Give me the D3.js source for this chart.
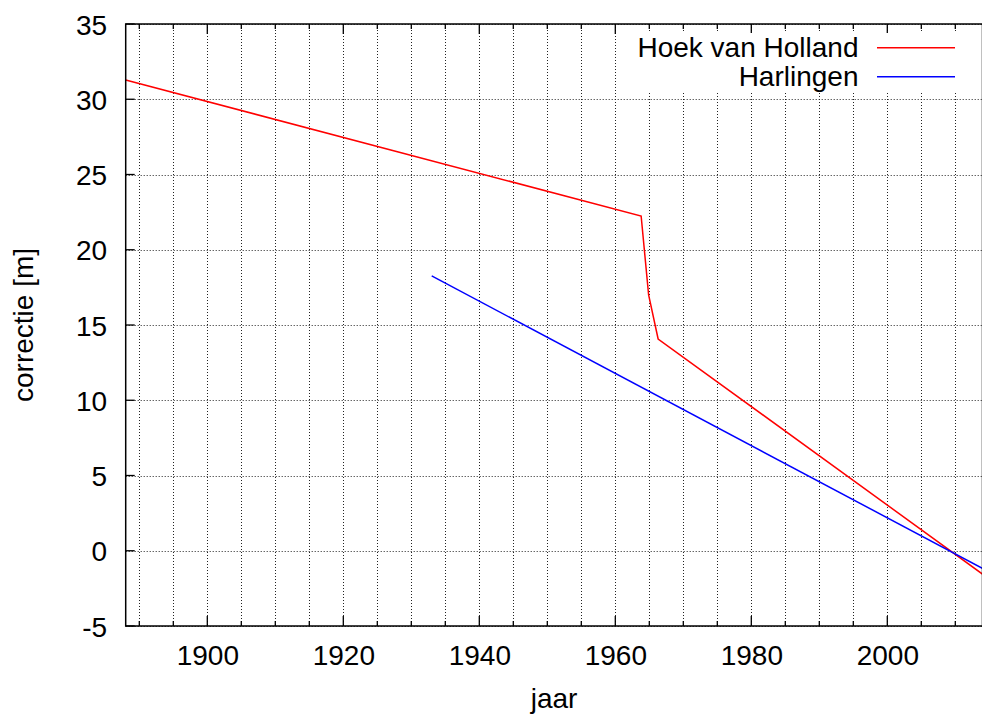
<!DOCTYPE html>
<html>
<head>
<meta charset="utf-8">
<script src="https://cdn.jsdelivr.net/npm/d3@7"></script>
<style>
  body { margin: 0; background: #fff; }
  svg { display: block; }
</style>
</head>
<body>
<script>
const hoekYears = [1888, 1963.8, 1964.9, 1966.3, 2014];
const hoekValues = [31.28, 22.24, 17.0, 14.07, -1.55];
const harlingenYears = [1933.0, 2014];
const harlingenValues = [18.26, -1.17];
const seriesNames = ["Hoek van Holland", "Harlingen"];
const xTickValues = [1900, 1920, 1940, 1960, 1980, 2000];
const yTickValues = [-5, 0, 5, 10, 15, 20, 25, 30, 35];

const drawChart = () => {
  const width = 982;
  const height = 717;
  const left = 125.7;
  const right = 982.5;
  const top = 24;
  const bottom = 626;
  const font = "'Liberation Sans', Arial, Helvetica, sans-serif";
  const colors = ["#ff0000", "#0000ff"];

  const xScale = d3.scaleLinear().domain([1888, 2014]).range([left, right]);
  const yScale = d3.scaleLinear().domain([-5, 35]).range([bottom, top]);

  const minorX = d3.range(1890, 2014.01, 5);

  const svg = d3
    .select("body")
    .append("svg")
    .attr("width", width)
    .attr("height", height);

  // grid
  const grid = svg
    .append("g")
    .attr("stroke", "#222")
    .attr("stroke-width", 1)
    .attr("stroke-dasharray", "1,2");
  grid
    .selectAll("line.v")
    .data(minorX)
    .enter()
    .append("line")
    .attr("x1", (d) => Math.round(xScale(d)) + 0.5)
    .attr("x2", (d) => Math.round(xScale(d)) + 0.5)
    .attr("y1", top)
    .attr("y2", bottom);
  grid
    .selectAll("line.h")
    .data(yTickValues)
    .enter()
    .append("line")
    .attr("x1", left)
    .attr("x2", right)
    .attr("y1", (d) => Math.round(yScale(d)) + 0.5)
    .attr("y2", (d) => Math.round(yScale(d)) + 0.5);

  // axes
  const xAxis = d3
    .axisBottom(xScale)
    .tickValues(xTickValues)
    .tickSize(0)
    .tickPadding(0)
    .tickFormat((d) => String(d));
  const yAxis = d3
    .axisLeft(yScale)
    .tickValues(yTickValues)
    .tickSize(0)
    .tickPadding(0)
    .tickFormat((d) => String(d));

  const xAxisGroup = svg.append("g").attr("transform", `translate(0 ${bottom})`).call(xAxis);
  xAxisGroup.select(".domain").remove();
  xAxisGroup
    .selectAll("text")
    .attr("y", 39)
    .attr("dy", 0)
    .attr("font-size", 28)
    .attr("font-family", font)
    .attr("fill", "#000");

  const yAxisGroup = svg.append("g").attr("transform", `translate(${left} 0)`).call(yAxis);
  yAxisGroup.select(".domain").remove();
  yAxisGroup
    .selectAll("text")
    .attr("x", -18.5)
    .attr("dy", "0.36em")
    .attr("font-size", 28)
    .attr("font-family", font)
    .attr("fill", "#000");

  // tick marks, mirrored on top
  const ticks = svg.append("g").attr("stroke", "#000").attr("stroke-width", 1.3);
  ticks
    .selectAll("line.xb")
    .data(minorX)
    .enter()
    .append("line")
    .attr("x1", (d) => xScale(d))
    .attr("x2", (d) => xScale(d))
    .attr("y1", bottom)
    .attr("y2", (d) => bottom - (d % 20 === 0 ? 10 : 5));
  ticks
    .selectAll("line.xt")
    .data(minorX)
    .enter()
    .append("line")
    .attr("x1", (d) => xScale(d))
    .attr("x2", (d) => xScale(d))
    .attr("y1", top)
    .attr("y2", (d) => top + (d % 20 === 0 ? 10 : 5));
  ticks
    .selectAll("line.yl")
    .data(yTickValues)
    .enter()
    .append("line")
    .attr("x1", left)
    .attr("x2", left + 9)
    .attr("y1", (d) => yScale(d))
    .attr("y2", (d) => yScale(d));

  // data lines
  const line = d3
    .line()
    .x((d) => xScale(d[0]))
    .y((d) => yScale(d[1]));

  const series = [
    d3.zip(hoekYears, hoekValues),
    d3.zip(harlingenYears, harlingenValues),
  ];

  svg
    .append("clipPath")
    .attr("id", "clip")
    .append("rect")
    .attr("x", left)
    .attr("y", top)
    .attr("width", right - left)
    .attr("height", bottom - top);

  // opaque key background
  svg
    .append("rect")
    .attr("x", 624)
    .attr("y", 33)
    .attr("width", 346)
    .attr("height", 59)
    .attr("fill", "#fff");

  svg
    .append("g")
    .attr("clip-path", "url(#clip)")
    .selectAll("path")
    .data(series)
    .enter()
    .append("path")
    .attr("d", line)
    .attr("fill", "none")
    .attr("stroke", (d, i) => colors[i])
    .attr("stroke-width", 1.5);

  const legend = svg
    .append("g")
    .selectAll("g")
    .data(seriesNames)
    .enter()
    .append("g")
    .attr("transform", (d, i) => `translate(0 ${47.7 + i * 29})`);

  legend
    .append("text")
    .attr("x", 858.5)
    .attr("y", 9.5)
    .attr("text-anchor", "end")
    .attr("font-size", 28)
    .attr("font-family", font)
    .attr("fill", "#000")
    .text((d) => d);

  legend
    .append("line")
    .attr("x1", 877)
    .attr("x2", 955)
    .attr("stroke", (d, i) => colors[i])
    .attr("stroke-width", 1.5);

  // frame
  svg
    .append("rect")
    .attr("x", left)
    .attr("y", top)
    .attr("width", right - left)
    .attr("height", bottom - top)
    .attr("fill", "none")
    .attr("stroke", "#000")
    .attr("stroke-width", 1.5);

  // axis titles
  svg
    .append("text")
    .attr("x", (left + right) / 2)
    .attr("y", 708)
    .attr("text-anchor", "middle")
    .attr("font-size", 28)
    .attr("font-family", font)
    .attr("fill", "#000")
    .text("jaar");

  svg
    .append("text")
    .attr("transform", `translate(33 ${(top + bottom) / 2}) rotate(-90)`)
    .attr("text-anchor", "middle")
    .attr("font-size", 28)
    .attr("font-family", font)
    .attr("fill", "#000")
    .text("correctie [m]");
};

drawChart();
</script>
</body>
</html>
